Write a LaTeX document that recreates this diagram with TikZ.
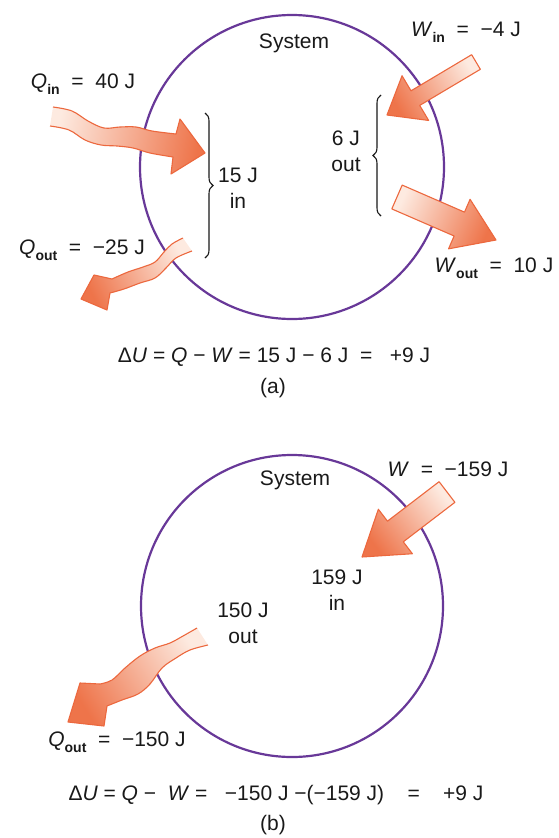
\documentclass[tikz,border=0pt]{standalone}
\usepackage{fontspec}
\setmainfont{Liberation Sans}
\usepackage{tikz}
\usetikzlibrary{calc, decorations.pathreplacing, positioning}
\definecolor{cRing}{RGB}{104,56,152}
\definecolor{cHeatLo}{RGB}{253,234,224}
\definecolor{cHeatHi}{RGB}{238,116,74}
\definecolor{cEdge}{RGB}{236,104,62}
\definecolor{cInk}{RGB}{25,25,25}
\newcommand{\subtxt}[1]{\raisebox{-0.28em}{\fontsize{14}{14}\selectfont\bfseries #1}}
% straight work arrow: tail, tip, shaft half width, head half width, head length, shading angle
\newcommand{\workarrow}[6]{%
	\coordinate (hb) at ($(#2)!#5!(#1)$);
	\draw[heatedge, left color=cHeatLo, right color=cHeatHi, shading angle=#6]
		($(#1)!#3!90:(#2)$) -- ($(hb)!#3!-90:(#1)$) -- ($(hb)!#4!-90:(#1)$) -- (#2)
		-- ($(hb)!#4!90:(#1)$) -- ($(hb)!#3!90:(#1)$) -- ($(#1)!#3!-90:(#2)$) -- cycle;
}
\tikzset{
	ring/.style     ={draw=cRing, line width=2.2pt},
	lbl/.style      ={font=\fontsize{21}{26}\selectfont, text=cInk, align=center, inner sep=0pt},
	brc/.style      ={decorate, decoration={brace, amplitude=8pt}, draw=cInk, line width=1.1pt},
	heat/.style     ={draw=none, left color=cHeatLo, right color=cHeatHi},
	heatedge/.style ={draw=cEdge, line width=1.1pt, line join=round},
}
\begin{document}
\begin{tikzpicture}[x=1pt, y=-1pt]
	\useasboundingbox (0,0) rectangle (558,838);
	% (a)
	\draw[ring] (292,167) circle (152);
	\node[lbl] (sysA) at (294,43) {System};
	\node[lbl] (qinA) at (83,84) {\textit{Q}\subtxt{in}~~=~~40 J};
	\node[lbl] (winA) at (466,32) {\textit{W}\subtxt{in}~~=~~−4 J};
	\node[lbl] (woutA) at (494,268) {\textit{W}\subtxt{out}~~=~~10 J};
	\node[lbl] (qoutA) at (82,250) {\textit{Q}\subtxt{out}~~=~~−25 J};
	\node[lbl] (netinA) at (238,188) {15 J\\in};
	\node[lbl] (netoutA) at (346,151) {6 J\\out};
	\node[lbl] (eqA) at (274,357) {Δ\textit{U} = \textit{Q} − \textit{W} = 15 J − 6 J ~= ~~+9 J};
	\node[lbl] (capA) at (273,388) {(a)};
	\draw[brc] (205,113) -- (205,258);
	\draw[brc] (381,216) -- (381,95);
	% heat in
	\def\qinpath{plot[smooth, tension=0.6] coordinates {(53,107) (72,111) (88,121) (104,128) (120,127) (136,127) (152,131) (176,134)}
		-- (180,119) -- (205,153) -- (171,174) -- (173,157)
		-- plot[smooth, tension=0.6] coordinates {(173,157) (150,153) (133,148) (117,146) (101,145) (85,140) (69,130) (50,126)}}
	\shade[heat, shading angle=80] \qinpath -- cycle;
	\draw[heatedge] \qinpath;
	% heat out
	\def\qoutpath{plot[smooth, tension=0.6] coordinates {(183,238) (172,244) (164,252) (155,262) (143,267) (128,272) (112,279)}
		-- (94,275) -- (81,299) -- (107,310) -- (110,293)
		-- plot[smooth, tension=0.6] coordinates {(110,293) (124,289) (140,283) (155,278) (166,268) (176,258) (192,251)}}
	\shade[heat, shading angle=296] \qoutpath -- cycle;
	\draw[heatedge] \qoutpath;
	% work in and out
	\coordinate (winT) at (476,62);
	\coordinate (winH) at (387,115);
	\workarrow{winT}{winH}{8.5pt}{26pt}{33pt}{300}
	\coordinate (woutT) at (397,197);
	\coordinate (woutH) at (496,240);
	\workarrow{woutT}{woutH}{13pt}{27pt}{40pt}{66}
	% (b)
	\draw[ring] (292,606) circle (151);
	\node[lbl] (sysB) at (295,480) {System};
	\node[lbl] (wB) at (448,469) {\textit{W}~~=~~−159 J};
	\node[lbl] (netinB) at (337,590) {159 J\\in};
	\node[lbl] (netoutB) at (243,623) {150 J\\out};
	\node[lbl] (qoutB) at (117,742) {\textit{Q}\subtxt{out}~~=~~−150 J};
	\node[lbl] (eqB) at (276,795) {Δ\textit{U} = \textit{Q} − ~\textit{W} = ~~−150 J −(−159 J) ~~~=~~~ +9 J};
	\node[lbl] (capB) at (273,825) {(b)};
	\def\qoutBpath{plot[smooth, tension=0.6] coordinates {(197,628) (183,636) (170,643) (155,648) (140,656) (125,668) (112,680) (100,684)}
		-- (80,683) -- (68,722) -- (104,726) -- (107,706)
		-- plot[smooth, tension=0.6] coordinates {(107,706) (122,700) (138,694) (150,684) (162,668) (176,658) (190,650) (208,645)}}
	\shade[heat, shading angle=302] \qoutBpath -- cycle;
	\draw[heatedge] \qoutBpath;
	\coordinate (wT) at (447,492);
	\coordinate (wH) at (362,557);
	\workarrow{wT}{wH}{13pt}{28pt}{42pt}{307}
\end{tikzpicture}
\end{document}
